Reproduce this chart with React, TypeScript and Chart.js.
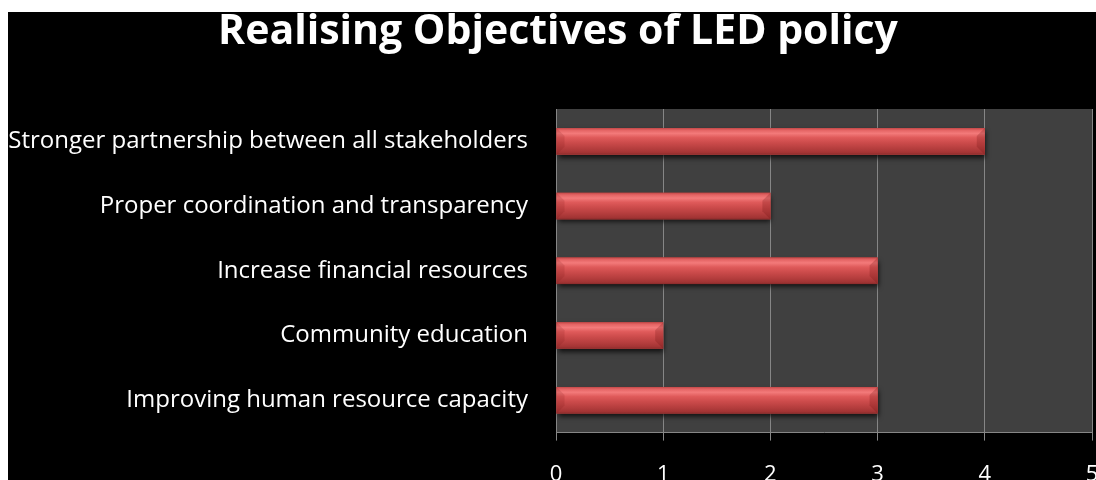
import React, { useEffect, useRef } from "react";
import { Chart, registerables } from "chart.js";

Chart.register(...registerables);

const chartTitle = "Realising Objectives of LED policy";
const categories = [
  "Stronger partnership between all stakeholders",
  "Proper coordination and transparency",
  "Increase financial resources",
  "Community education",
  "Improving human resource capacity",
];
const values = [4, 2, 3, 1, 3];
const xMin = 0;
const xMax = 5;
const xStep = 1;

const FONT = "'Open Sans', Lato, sans-serif";

const plotBackground = {
  id: "plotBackground",
  beforeDraw(chart: any) {
    const { ctx, chartArea } = chart;
    if (!chartArea) return;
    ctx.save();
    ctx.fillStyle = "#404040";
    ctx.fillRect(chartArea.left, chartArea.top, chartArea.right - chartArea.left, chartArea.bottom - chartArea.top);
    ctx.restore();
  },
};

function barRects(chart: any) {
  const meta = chart.getDatasetMeta(0);
  return meta.data.map((el: any) => {
    const p = el.getProps(["x", "y", "base", "height"], true);
    const left = Math.min(p.base, p.x);
    const right = Math.max(p.base, p.x);
    const top = p.y - p.height / 2;
    const bottom = p.y + p.height / 2;
    return { left, right, top, bottom };
  });
}

const glossBars = {
  id: "glossBars",
  beforeDatasetsDraw(chart: any) {
    const { ctx } = chart;
    ctx.save();
    for (const r of barRects(chart)) {
      ctx.shadowColor = "rgba(0,0,0,0.75)";
      ctx.shadowBlur = 5;
      ctx.shadowOffsetY = 3;
      ctx.shadowOffsetX = 1;
      ctx.fillStyle = "#7a2626";
      ctx.fillRect(r.left, r.top, r.right - r.left, r.bottom - r.top);
    }
    ctx.restore();
  },
  afterDatasetsDraw(chart: any) {
    const { ctx } = chart;
    ctx.save();
    for (const r of barRects(chart)) {
      const h = r.bottom - r.top;
      const g = ctx.createLinearGradient(0, r.top, 0, r.bottom);
      g.addColorStop(0, "#c44848");
      g.addColorStop(0.08, "#e46464");
      g.addColorStop(0.2, "#f37a7a");
      g.addColorStop(0.36, "#df5a5a");
      g.addColorStop(0.55, "#cc4b4b");
      g.addColorStop(0.8, "#b23c3c");
      g.addColorStop(0.93, "#a23434");
      g.addColorStop(1, "#8a2b2b");
      ctx.fillStyle = g;
      ctx.fillRect(r.left, r.top, r.right - r.left, h);
      const b = Math.min(8, h / 2);
      ctx.fillStyle = "rgba(120,20,20,0.16)";
      ctx.beginPath();
      ctx.moveTo(r.left, r.top);
      ctx.lineTo(r.left + b, r.top + b);
      ctx.lineTo(r.left + b, r.bottom - b);
      ctx.lineTo(r.left, r.bottom);
      ctx.closePath();
      ctx.fill();
      ctx.fillStyle = "rgba(110,15,15,0.24)";
      ctx.beginPath();
      ctx.moveTo(r.right, r.top);
      ctx.lineTo(r.right - b, r.top + b);
      ctx.lineTo(r.right - b, r.bottom - b);
      ctx.lineTo(r.right, r.bottom);
      ctx.closePath();
      ctx.fill();
    }
    ctx.restore();
  },
};

export default function App() {
  const canvasRef = useRef<HTMLCanvasElement | null>(null);

  useEffect(() => {
    if (!canvasRef.current) return;
    const chart = new Chart(canvasRef.current, {
      type: "bar",
      data: {
        labels: categories,
        datasets: [
          {
            data: values,
            backgroundColor: "#c0504d",
            borderWidth: 0,
            barPercentage: 0.5,
            categoryPercentage: 0.82,
          },
        ],
      },
      options: {
        indexAxis: "y",
        responsive: false,
        animation: false,
        devicePixelRatio: 1,
        layout: { padding: { left: 0, right: 0, top: 0, bottom: 0 } },
        plugins: {
          legend: { display: false },
          tooltip: { enabled: false },
          title: {
            display: true,
            text: chartTitle,
            color: "#ffffff",
            font: { family: FONT, size: 41, weight: "bold", lineHeight: 1 },
            padding: { top: 0, bottom: 56 },
          },
        },
        scales: {
          x: {
            type: "linear",
            min: xMin,
            max: xMax,
            ticks: {
              stepSize: xStep,
              color: "#ffffff",
              font: { family: FONT, size: 22 },
              padding: 21,
              maxRotation: 0,
            },
            grid: { color: "#868686", lineWidth: 1, tickLength: 8, drawTicks: true },
            border: { display: true, color: "#868686", width: 1 },
            afterFit: (scale: any) => {
              scale.paddingLeft = 0;
              scale.paddingRight = 16;
            },
          },
          y: {
            type: "category",
            ticks: {
              color: "#ffffff",
              font: { family: FONT, size: 24 },
              padding: 28,
            },
            grid: { display: false, drawTicks: false },
            border: { display: true, color: "#868686", width: 1 },
            afterFit: (scale: any) => {
              scale.width = 548;
            },
          },
        },
      },
      plugins: [plotBackground, glossBars],
    } as any);
    return () => chart.destroy();
  }, []);

  return (
    <div
      style={{
        position: "fixed",
        left: 8,
        top: 12,
        width: 1088,
        height: 468,
        background: "#000",
        overflow: "hidden",
      }}
    >
      <canvas ref={canvasRef} width={1100} height={497} style={{ display: "block" }} />
    </div>
  );
}
